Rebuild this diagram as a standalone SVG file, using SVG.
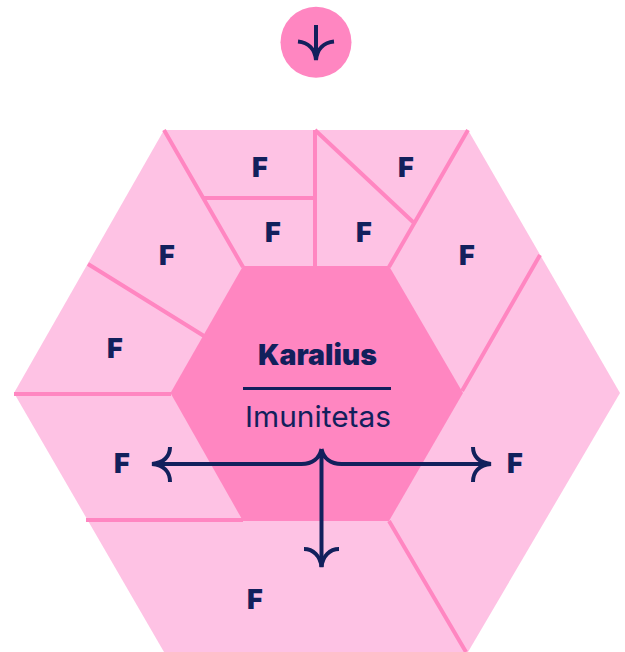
<svg xmlns="http://www.w3.org/2000/svg" width="625" height="652" viewBox="0 0 625 652">
<style>
.t{font-family:"Inter","Liberation Sans",sans-serif;fill:#12205c}
.f{font-size:27px;font-weight:900;text-anchor:middle}
.seg{stroke:#ff86c1;stroke-width:4;fill:none;stroke-linecap:butt}
.ln{stroke:#12205c;stroke-width:4;fill:none}
</style>
<rect width="625" height="652" fill="#ffffff"/>
<g id="top-circle"><circle cx="316" cy="42.300" r="35.500" fill="#ff86c1"/>
<path class="ln" d="M316 25V60M298 41.500C308 42.500 315 49 316 60C317 49 324 42.500 334 41.500"/></g>
<g id="outer-hexagon"><path d="M164 130H468L620 393L468 652H164L14 393Z" fill="#fec2e4"/></g>
<g id="segment-lines">
<path class="seg" d="M164 130L243 267M204 198H315M315 130V267M315 130L413 222M468 130L389 267"/>
<path class="seg" d="M88 264L204 336M14 394H171M86 520H243M389 521L466 652M540 255L462 391"/>
</g>
<g id="inner-hexagon"><path d="M243 266H389L463 393L389 521H243L170.500 393Z" fill="#ff86c1"/></g>
<g id="center-label">
<text class="t" x="317.500" y="365" font-size="28" font-weight="900" text-anchor="middle" textLength="119" lengthAdjust="spacingAndGlyphs">Karalius</text>
<path class="ln" d="M243 388.500H391" style="stroke-width:3"/>
<text class="t" x="318" y="427" font-size="29" font-weight="400" text-anchor="middle" textLength="146" lengthAdjust="spacingAndGlyphs">Imunitetas</text>
</g>
<g id="connectors">
<path class="ln" d="M321.500 449V567M321.500 449C319.500 458 312.500 464 301.500 464H152M321.500 449C323.500 458 330.500 464 341.500 464H491"/>
<path class="ln" d="M170 447C170 456 164 463 152 464C164 465 170 472 170 482M473 447C473 456 479 463 491 464C479 465 473 472 473 482M304 549C313 549 320.500 556 321.500 567C322.500 556 330 549 339 549"/>
</g>
<g id="labels">
<text class="t f" x="260" y="177">F</text>
<text class="t f" x="406" y="177">F</text>
<text class="t f" x="273" y="242">F</text>
<text class="t f" x="364" y="242">F</text>
<text class="t f" x="167" y="265">F</text>
<text class="t f" x="467" y="265">F</text>
<text class="t f" x="115" y="358">F</text>
<text class="t f" x="122" y="473">F</text>
<text class="t f" x="515" y="473">F</text>
<text class="t f" x="255" y="609">F</text>
</g>
</svg>
